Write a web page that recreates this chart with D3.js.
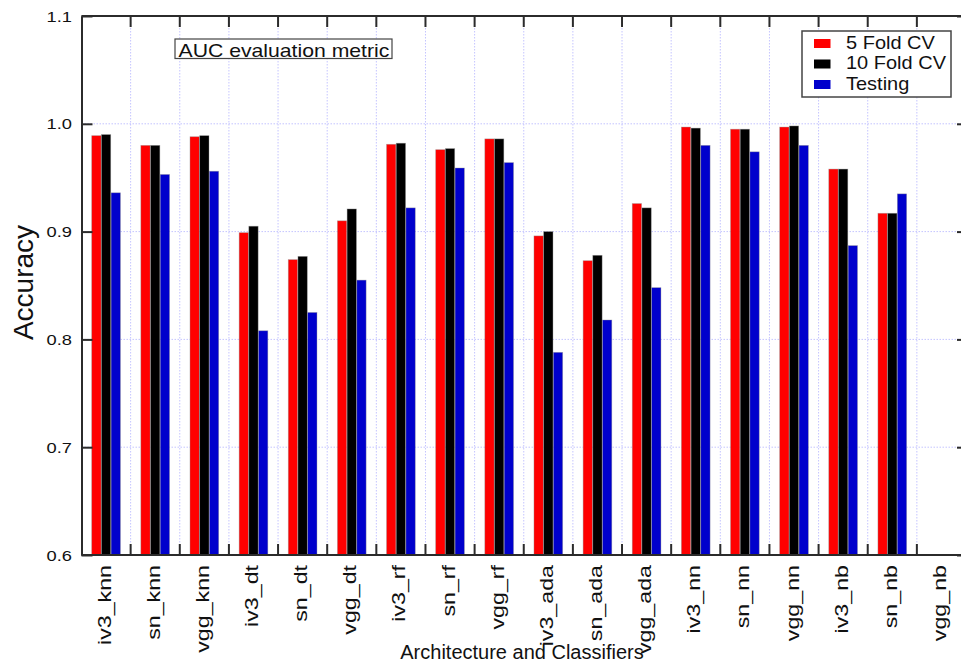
<!DOCTYPE html>
<html>
<head>
<meta charset="utf-8">
<script src="https://cdn.jsdelivr.net/npm/d3@7"></script>
<style>
  html, body { margin: 0; padding: 0; background: #fff; }
  svg { display: block; font-family: "Liberation Sans", Arial, Helvetica, sans-serif; }
</style>
</head>
<body>
<svg id="chart" width="961" height="661"></svg>
<script>
// Classifier / architecture combinations along the x axis
const categories = ["iv3_knn", "sn_knn", "vgg_knn", "iv3_dt", "sn_dt", "vgg_dt",
  "iv3_rf", "sn_rf", "vgg_rf", "iv3_ada", "sn_ada", "vgg_ada",
  "iv3_nn", "sn_nn", "vgg_nn", "iv3_nb", "sn_nb", "vgg_nb"];

// AUC per evaluation setting (vgg_nb has no result)
const fiveFold = [0.989, 0.980, 0.988, 0.899, 0.874, 0.910,
  0.981, 0.976, 0.986, 0.896, 0.873, 0.926,
  0.997, 0.995, 0.997, 0.958, 0.917, null];
const tenFold = [0.990, 0.980, 0.989, 0.905, 0.877, 0.921,
  0.982, 0.977, 0.986, 0.900, 0.878, 0.922,
  0.996, 0.995, 0.998, 0.958, 0.917, null];
const testing = [0.936, 0.953, 0.956, 0.808, 0.825, 0.855,
  0.922, 0.959, 0.964, 0.788, 0.818, 0.848,
  0.980, 0.974, 0.980, 0.887, 0.935, null];

const seriesNames = ["5 Fold CV", "10 Fold CV", "Testing"];
const seriesColors = ["#ff0000", "#000000", "#0000cc"];
const yTicks = [0.6, 0.7, 0.8, 0.9, 1.0, 1.1];
const gridTicks = [0.7, 0.8, 0.9, 1.0];

const svg = d3.select("#chart");
const plotLeft = 81.5, plotRight = 966, plotTop = 16, plotBottom = 555;

const x = d3.scaleBand().domain(categories).range([plotLeft, plotRight]).padding(0);
const inner = d3.scaleBand().domain(seriesNames)
  .range([x.bandwidth() * 0.2, x.bandwidth() * 0.8]).padding(0.04);
const y = d3.scaleLinear().domain([0.6, 1.1]).range([plotBottom, plotTop]);

svg.append("rect").attr("width", 961).attr("height", 661).attr("fill", "#fff");

// dotted grid
const grid = svg.append("g").attr("stroke", "#c4c4ff").attr("stroke-width", 1)
  .attr("stroke-dasharray", "1.5,1.5");
grid.selectAll("line.h").data(gridTicks).join("line").attr("class", "h")
  .attr("x1", plotLeft).attr("x2", plotRight)
  .attr("y1", d => y(d)).attr("y2", d => y(d));
grid.selectAll("line.v").data(categories.slice(1)).join("line").attr("class", "v")
  .attr("x1", d => x(d)).attr("x2", d => x(d))
  .attr("y1", plotTop).attr("y2", plotBottom);

// bars
const series = [fiveFold, tenFold, testing];
const barData = [];
categories.forEach((c, i) => {
  series.forEach((s, k) => {
    if (s[i] != null) barData.push({ cat: c, name: seriesNames[k], value: s[i], color: seriesColors[k] });
  });
});
svg.append("g").selectAll("rect").data(barData).join("rect")
  .attr("x", d => x(d.cat) + inner(d.name))
  .attr("width", inner.bandwidth())
  .attr("y", d => y(d.value))
  .attr("height", d => y(0.6) - y(d.value))
  .attr("fill", d => d.color)
  .attr("stroke", "rgba(150,150,150,0.55)")
  .attr("stroke-width", 0.7);

// frame and inward ticks
const frameColor = "#2b2b2b";
const axisLeft = d3.axisLeft(y).tickValues(yTicks).tickSizeInner(-11).tickSizeOuter(0).tickFormat("");
const gl = svg.append("g").attr("transform", `translate(${plotLeft},0)`).call(axisLeft);
gl.selectAll("line, path").attr("stroke", frameColor).attr("stroke-width", 2);

const axisRight = d3.axisRight(y).tickValues(yTicks).tickSizeInner(-9).tickSizeOuter(0).tickFormat("");
const gr = svg.append("g").attr("transform", `translate(${plotRight},0)`).call(axisRight);
gr.selectAll("line, path").attr("stroke", frameColor).attr("stroke-width", 2);

const bounds = categories.slice(1).map(c => x(c));
const edges = svg.append("g").attr("stroke", frameColor).attr("stroke-width", 2);
edges.append("line").attr("x1", plotLeft).attr("x2", plotRight).attr("y1", plotTop).attr("y2", plotTop);
edges.append("line").attr("x1", plotLeft).attr("x2", plotRight).attr("y1", plotBottom).attr("y2", plotBottom);
edges.selectAll("line.tt").data(bounds).join("line").attr("class", "tt")
  .attr("x1", d => d).attr("x2", d => d).attr("y1", plotTop).attr("y2", plotTop + 11);
edges.selectAll("line.bt").data(bounds).join("line").attr("class", "bt")
  .attr("x1", d => d).attr("x2", d => d).attr("y1", plotBottom).attr("y2", plotBottom - 11);

// y tick labels (wide lettering)
svg.append("g").selectAll("text").data(yTicks).join("text")
  .attr("transform", d => `translate(72,${y(d) + 5.6}) scale(1.18,1)`)
  .attr("text-anchor", "end")
  .attr("font-size", 15.5)
  .attr("fill", "#111")
  .text(d3.format(".1f"));

// category labels (rotated, elongated lettering)
svg.append("g").selectAll("text").data(categories).join("text")
  .attr("transform", d => `translate(${x(d) + x.bandwidth() / 2 + 4.5},565) rotate(-90) scale(1.29,1)`)
  .attr("text-anchor", "end")
  .attr("font-size", 18)
  .attr("fill", "#111")
  .text(d => d);

// axis titles
svg.append("text")
  .attr("transform", "translate(33,282.5) rotate(-90)")
  .attr("text-anchor", "middle")
  .attr("font-size", 28)
  .attr("fill", "#111")
  .text("Accuracy");
svg.append("text")
  .attr("x", 522).attr("y", 659)
  .attr("text-anchor", "middle")
  .attr("font-size", 20)
  .attr("fill", "#111")
  .text("Architecture and Classifiers");

// annotation box
const note = svg.append("g");
note.append("rect").attr("x", 175).attr("y", 39).attr("width", 217).attr("height", 19.5)
  .attr("fill", "#fff").attr("stroke", "#444").attr("stroke-width", 1.2);
note.append("text").attr("transform", "translate(178.5,56.5) scale(1.14,1)")
  .attr("font-size", 18.6).attr("fill", "#111")
  .text("AUC evaluation metric");

// legend
const legend = svg.append("g");
legend.append("rect").attr("x", 802).attr("y", 31).attr("width", 149).attr("height", 66)
  .attr("fill", "#fff").attr("stroke", "#444").attr("stroke-width", 1.5);
const rows = legend.selectAll("g.row").data(seriesNames).join("g").attr("class", "row")
  .attr("transform", (d, i) => `translate(0,${42.2 + i * 20.5})`);
rows.append("rect").attr("x", 814).attr("y", -3.2).attr("width", 16.5).attr("height", 9)
  .attr("fill", (d, i) => seriesColors[i]);
rows.append("text").attr("transform", "translate(846,6.3) scale(1.13,1)")
  .attr("font-size", 17.7).attr("fill", "#111")
  .text(d => d);
</script>
</body>
</html>
